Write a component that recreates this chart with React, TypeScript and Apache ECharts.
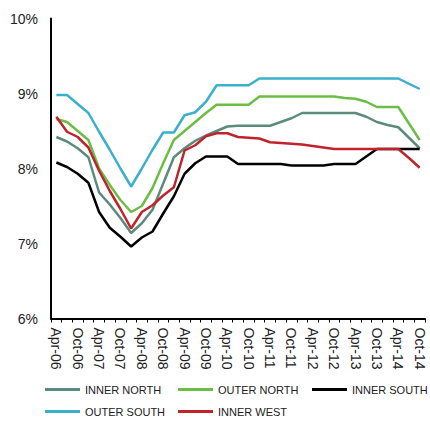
import React, { useEffect, useRef } from "react";
import * as echarts from "echarts";

const categories = [
  "Apr-06", "Jul-06", "Oct-06", "Jan-07", "Apr-07", "Jul-07", "Oct-07", "Jan-08", "Apr-08", "Jul-08",
  "Oct-08", "Jan-09", "Apr-09", "Jul-09", "Oct-09", "Jan-10", "Apr-10", "Jul-10", "Oct-10", "Jan-11",
  "Apr-11", "Jul-11", "Oct-11", "Jan-12", "Apr-12", "Jul-12", "Oct-12", "Jan-13", "Apr-13", "Jul-13",
  "Oct-13", "Jan-14", "Apr-14", "Jul-14", "Oct-14",
];

const innerNorth = [
  8.42, 8.36, 8.27, 8.15, 7.68, 7.52, 7.34, 7.14, 7.27, 7.45,
  7.80, 8.15, 8.27, 8.37, 8.44, 8.50, 8.56, 8.57, 8.57, 8.57,
  8.57, 8.62, 8.67, 8.74, 8.74, 8.74, 8.74, 8.74, 8.74, 8.69,
  8.62, 8.58, 8.55, 8.41, 8.27,
];
const outerNorth = [
  8.66, 8.62, 8.50, 8.38, 8.00, 7.78, 7.58, 7.42, 7.50, 7.74,
  8.07, 8.38, 8.50, 8.62, 8.74, 8.85, 8.85, 8.85, 8.85, 8.96,
  8.96, 8.96, 8.96, 8.96, 8.96, 8.96, 8.96, 8.94, 8.93, 8.89,
  8.82, 8.82, 8.82, 8.60, 8.38,
];
const innerSouth = [
  8.08, 8.02, 7.93, 7.81, 7.42, 7.21, 7.09, 6.96, 7.08, 7.16,
  7.40, 7.63, 7.93, 8.07, 8.16, 8.16, 8.16, 8.06, 8.06, 8.06,
  8.06, 8.06, 8.04, 8.04, 8.04, 8.04, 8.06, 8.06, 8.06, 8.16,
  8.26, 8.26, 8.26, 8.26, 8.26,
];
const outerSouth = [
  8.98, 8.98, 8.86, 8.74, 8.49, 8.25, 8.00, 7.76, 8.00, 8.25,
  8.48, 8.48, 8.71, 8.75, 8.89, 9.11, 9.11, 9.11, 9.11, 9.20,
  9.20, 9.20, 9.20, 9.20, 9.20, 9.20, 9.20, 9.20, 9.20, 9.20,
  9.20, 9.20, 9.20, 9.13, 9.06,
];
const innerWest = [
  8.69, 8.49, 8.42, 8.28, 7.97, 7.70, 7.46, 7.20, 7.42, 7.51,
  7.64, 7.75, 8.24, 8.31, 8.43, 8.47, 8.47, 8.42, 8.41, 8.40,
  8.35, 8.34, 8.33, 8.32, 8.30, 8.28, 8.26, 8.26, 8.26, 8.26,
  8.26, 8.26, 8.26, 8.14, 8.01,
];

const seriesNames = ["INNER NORTH", "OUTER NORTH", "INNER SOUTH", "OUTER SOUTH", "INNER WEST"];
const seriesData = [innerNorth, outerNorth, innerSouth, outerSouth, innerWest];
const seriesColors = ["#5A8B7D", "#6CBD45", "#000000", "#3BB0CB", "#C0232C"];

const FONT = "'Liberation Sans', Arial, sans-serif";

export default function App() {
  const ref = useRef<HTMLDivElement>(null);

  useEffect(() => {
    if (!ref.current) return;
    const chart = echarts.init(ref.current, null, { renderer: "svg" });

    const legendPos = [
      { left: 45, top: 384 },
      { left: 178, top: 384 },
      { left: 312, top: 384 },
      { left: 45, top: 406 },
      { left: 178, top: 406 },
    ];

    chart.setOption({
      animation: false,
      backgroundColor: "#ffffff",
      textStyle: { fontFamily: FONT },
      grid: { left: 51, right: 5, top: 18.5, bottom: 102.5, containLabel: false },
      legend: seriesNames.map((name, i) => ({
        data: [name],
        left: legendPos[i].left,
        top: legendPos[i].top,
        padding: 0,
        icon: "rect",
        itemWidth: 35,
        itemHeight: 3,
        selectedMode: false,
        textStyle: { fontSize: 11, color: "#222", fontFamily: FONT },
      })),
      xAxis: {
        type: "category",
        data: categories,
        boundaryGap: true,
        axisLine: { show: true, lineStyle: { color: "#000", width: 2 } },
        axisTick: { show: true, interval: 0, length: 4, lineStyle: { color: "#000", width: 1 } },
        axisLabel: {
          interval: 1,
          rotate: -90,
          margin: 9,
          fontSize: 14,
          color: "#222",
          fontFamily: FONT,
        },
        splitLine: { show: false },
      },
      yAxis: {
        type: "value",
        min: 6,
        max: 10,
        interval: 1,
        axisLine: { show: true, lineStyle: { color: "#000", width: 2 } },
        axisTick: { show: false },
        axisLabel: {
          formatter: "{value}%",
          fontSize: 14,
          color: "#222",
          margin: 13,
          fontFamily: FONT,
        },
        splitLine: { show: false },
      },
      series: seriesNames.map((name, i) => ({
        name,
        type: "line",
        data: seriesData[i],
        color: seriesColors[i],
        symbol: "none",
        lineStyle: { width: 2.5, color: seriesColors[i] },
      })),
    });

    return () => chart.dispose();
  }, []);

  return (
    <div
      ref={ref}
      style={{ position: "fixed", left: 0, top: 0, width: 430, height: 421 }}
    />
  );
}
